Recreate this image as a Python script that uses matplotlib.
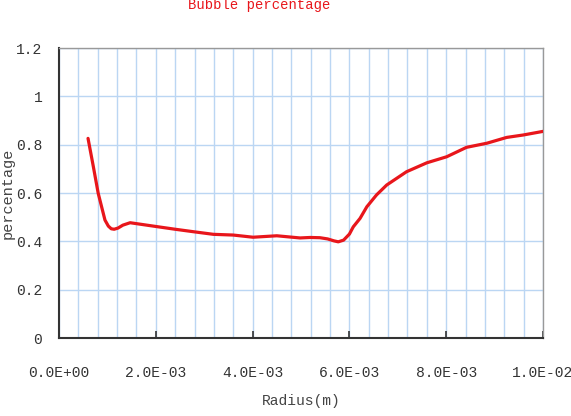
import numpy as np
import matplotlib
matplotlib.use('Agg')
import matplotlib.pyplot as plt
from matplotlib.ticker import MultipleLocator, FuncFormatter

# ===============================================================================
# data

radius = [0.60e-3, 0.71e-3, 0.81e-3, 0.95e-3, 1.02e-3, 1.08e-3, 1.14e-3,
          1.22e-3, 1.32e-3, 1.47e-3, 1.95e-3, 2.40e-3, 2.77e-3, 3.19e-3,
          3.60e-3, 4.01e-3, 4.50e-3, 4.98e-3, 5.19e-3, 5.39e-3, 5.55e-3,
          5.68e-3, 5.77e-3, 5.88e-3, 6.00e-3, 6.08e-3, 6.22e-3, 6.36e-3,
          6.56e-3, 6.77e-3, 7.18e-3, 7.60e-3, 8.01e-3, 8.42e-3, 8.84e-3,
          9.25e-3, 9.59e-3, 10.0e-3]
percentage = [0.826, 0.709, 0.599, 0.488, 0.463, 0.452, 0.450,
              0.455, 0.467, 0.477, 0.463, 0.450, 0.440, 0.429,
              0.426, 0.417, 0.423, 0.414, 0.416, 0.415, 0.410,
              0.402, 0.398, 0.405, 0.430, 0.460, 0.495, 0.543,
              0.592, 0.633, 0.688, 0.725, 0.750, 0.789, 0.806,
              0.830, 0.840, 0.855]

# ===============================================================================

plt.rcParams['font.family'] = ['Liberation Mono', 'DejaVu Sans']

fig = plt.figure(figsize=(5.71, 4.16), dpi=100)
ax = fig.add_axes([0.1033, 0.1875, 0.8477, 0.6971])

ax.plot(radius, percentage, c='#E8161B', lw=2.3, solid_capstyle='round',
        solid_joinstyle='round', zorder=3)

ax.set_xlim(0, 0.01)
ax.set_ylim(0, 1.2)
ax.xaxis.set_major_locator(MultipleLocator(0.002))
ax.xaxis.set_minor_locator(MultipleLocator(0.0004))
ax.yaxis.set_major_locator(MultipleLocator(0.2))

def fmt_x(v, pos):
    m, e = ('%.1E' % v).split('E')
    return m + 'E' + e[0] + e[1:].zfill(2)

def fmt_y(v, pos):
    s = '%.1f' % v
    return s[:-2] if s.endswith('.0') else s

ax.xaxis.set_major_formatter(FuncFormatter(fmt_x))
ax.yaxis.set_major_formatter(FuncFormatter(fmt_y))

ax.grid(True, which='both', axis='x', color='#BBD6F3', lw=1, zorder=0)
ax.grid(True, which='major', axis='y', color='#BBD6F3', lw=1, zorder=0)

ax.tick_params(axis='x', which='major', direction='in', length=5, width=1.2,
               pad=20, labelsize=10.5, colors='#333333')
ax.tick_params(axis='x', which='minor', length=0)
ax.tick_params(axis='y', length=0, pad=12, labelsize=10.5, colors='#333333')

for s in ['left', 'bottom']:
    ax.spines[s].set_color('#333333')
    ax.spines[s].set_linewidth(1.5)
for s in ['top', 'right']:
    ax.spines[s].set_color('#999999')
    ax.spines[s].set_linewidth(1)

ax.set_xlabel('Radius(m)', fontsize=10.5, color='#444444', labelpad=10)
ax.set_ylabel('percentage', fontsize=11, color='#444444', va='center')
ax.yaxis.set_label_coords(-0.105, 0.5)

fig.text(0.454, 0.978, 'Bubble percentage', ha='center', va='baseline',
         color='#E8161B', fontsize=10)

fig.savefig('out.png', dpi=100)
plt.close()
